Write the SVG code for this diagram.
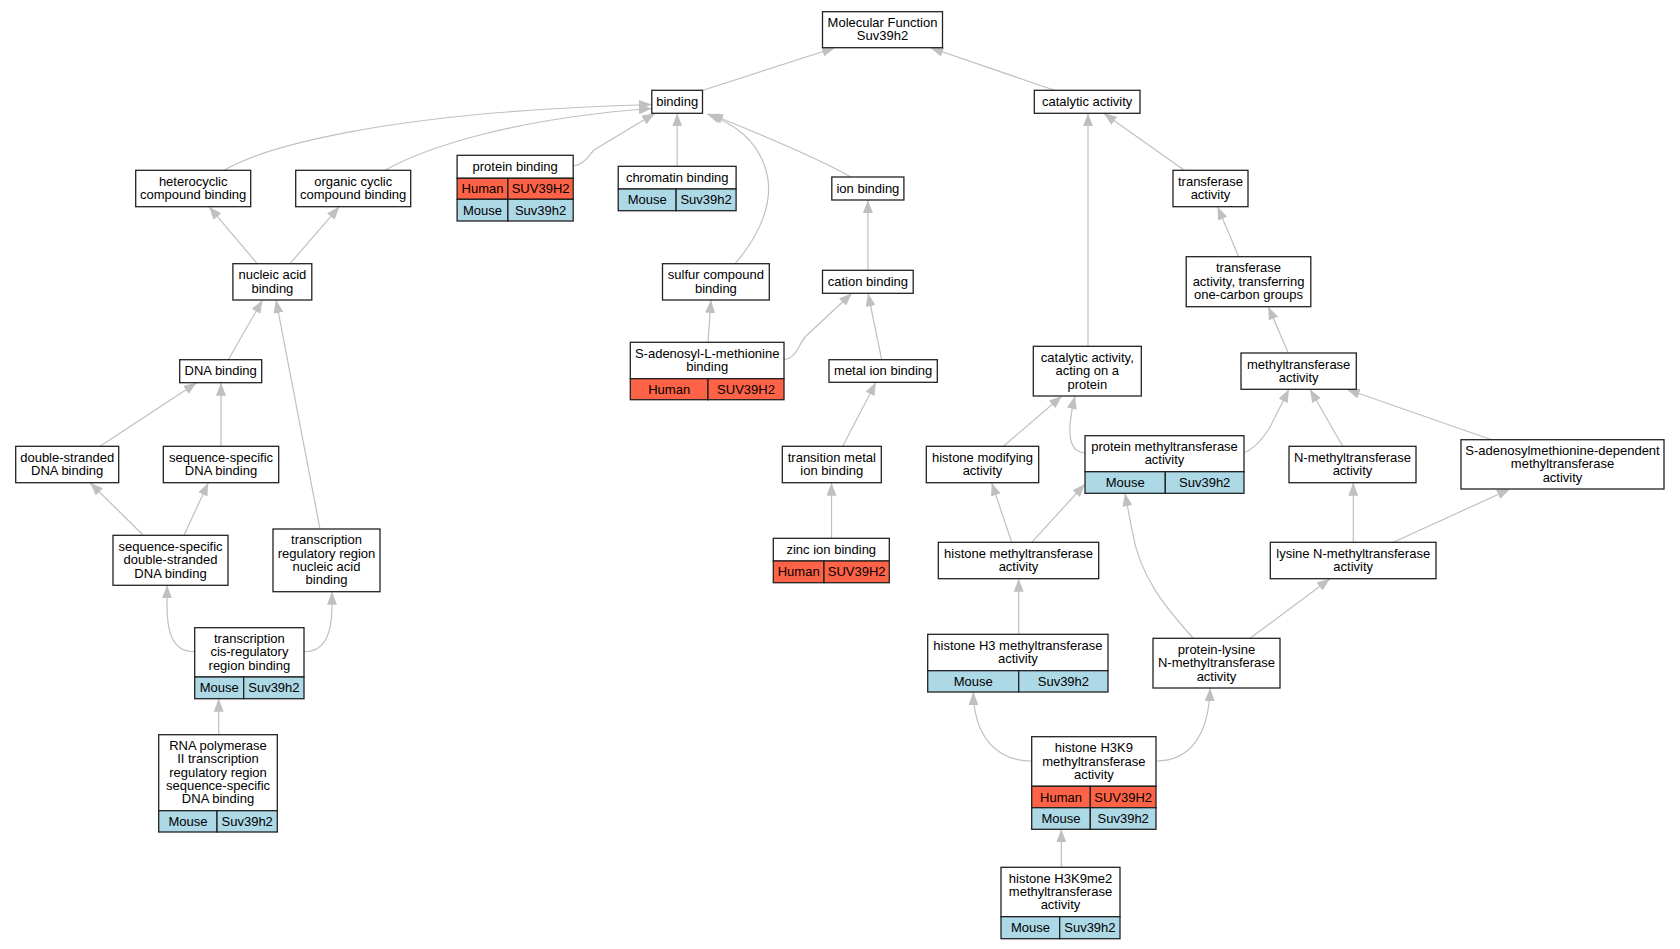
<svg xmlns="http://www.w3.org/2000/svg" width="1680" height="949" viewBox="0 0 1680 949">
<style>
.n rect{fill:#fff;stroke:#222;stroke-width:1.3}
.n rect.h{fill:#ff6347}
.n rect.m{fill:#add8e6}
text{font-family:"Liberation Sans",Arial,Helvetica,sans-serif;font-size:13px;text-anchor:middle;fill:#000}
.e path{fill:none;stroke:#c0c0c0;stroke-width:1.2;marker-end:url(#ah)}
</style>
<defs>
<marker id="ah" markerWidth="13" markerHeight="10" refX="13" refY="5" orient="auto" markerUnits="userSpaceOnUse">
<path d="M0,0 L13,5 L0,10 z" fill="#c0c0c0"/>
</marker>
</defs>
<rect width="1680" height="949" fill="#fff"/>
<g id="edges" class="e">
<path d="M702.9,90.3 L835,47.7"/>
<path d="M1054.6,90.3 L930.4,47.7"/>
<path d="M224,170.3 C262,148 380,112 651.8,104.5"/>
<path d="M385,170.3 C430,145 520,118 651.8,108.5"/>
<path d="M573.2,166 C583,165 588,157 594,150 L655,113.3"/>
<path d="M677.2,166.3 L677.2,113.3"/>
<path d="M735,263.7 C760,235 775,200 766,170 C757,140 735,124 707,114"/>
<path d="M851,177 C830,165 780,142 710,114"/>
<path d="M867.9,270.3 L867.9,200"/>
<path d="M708,342.3 L711,300"/>
<path d="M784,359.3 C796,359 798,345 806,336 L852,293.3"/>
<path d="M881.7,359.7 L868,293.3"/>
<path d="M842.7,446.3 L876,382.3"/>
<path d="M831.5,538.3 L831.5,482.7"/>
<path d="M257.3,263.7 L209,206.7"/>
<path d="M290,263.7 L339.3,206.7"/>
<path d="M228.3,359.7 L262.5,300"/>
<path d="M320,529 L276,300"/>
<path d="M100,446.3 L196.7,382.7"/>
<path d="M221,446.3 L221,382.7"/>
<path d="M143.3,535.3 L90,482.7"/>
<path d="M184,535.3 L208.3,482.7"/>
<path d="M194.7,651.7 C172,651.7 167,632 167,605 L167,585.3"/>
<path d="M304,651.7 C326,651.7 332,632 332,605 L332,591.7"/>
<path d="M218.7,734.7 L218.7,698.7"/>
<path d="M1184.3,170.3 L1103.7,113.3"/>
<path d="M1238.7,256.7 L1217.6,206.7"/>
<path d="M1088,346.3 L1088,113.3"/>
<path d="M1288.3,353 L1268.3,306.7"/>
<path d="M1003.3,446.3 L1062,396"/>
<path d="M1085,452.7 C1072,452.7 1069,440 1070,425 C1071,413 1073,404 1075,396"/>
<path d="M1011.7,542.3 L991.7,482.7"/>
<path d="M1031.7,542.3 L1085,484"/>
<path d="M1244,452.7 C1254,449 1262,440 1270,427 L1289,389.3"/>
<path d="M1342.7,446.3 L1310,389.3"/>
<path d="M1491.7,439.7 L1346.7,389.3"/>
<path d="M1353.3,542.3 L1353.3,482.7"/>
<path d="M1393.3,542.3 L1510,489"/>
<path d="M1018.7,634.3 L1018.7,578.7"/>
<path d="M1193.3,638.3 C1170,612 1140,580 1132,530 L1125,493.3"/>
<path d="M1250,638.3 L1330,578.7"/>
<path d="M1031.7,761 C995,761 974,735 973.3,692"/>
<path d="M1156,761 C1190,761 1209,735 1210,688"/>
<path d="M1061.3,867.3 L1061.3,829.3"/>
</g>

<g id="mf" class="n"><rect x="822.5" y="11.7" width="120" height="36"/><text x="882.5" y="27.1">Molecular Function</text><text x="882.5" y="40.4">Suv39h2</text></g>
<g id="binding" class="n"><rect x="651.8" y="90.3" width="50.7" height="23"/><text x="677.2" y="105.8">binding</text></g>
<g id="catalytic" class="n"><rect x="1034.3" y="90.3" width="105.7" height="23"/><text x="1087.2" y="105.8">catalytic activity</text></g>
<g id="heterocyclic" class="n"><rect x="135.7" y="170.3" width="115" height="36.4"/><text x="193.2" y="185.9">heterocyclic</text><text x="193.2" y="199.2">compound binding</text></g>
<g id="organic" class="n"><rect x="295.7" y="170.3" width="115" height="36.4"/><text x="353.2" y="185.9">organic cyclic</text><text x="353.2" y="199.2">compound binding</text></g>
<g id="transferase" class="n"><rect x="1173" y="170.3" width="75" height="36.4"/><text x="1210.5" y="185.9">transferase</text><text x="1210.5" y="199.2">activity</text></g>
<g id="ion" class="n"><rect x="831.8" y="177" width="72.1" height="23"/><text x="867.9" y="192.5">ion binding</text></g>
<g id="protein" class="n">
<rect x="457.1" y="155.3" width="116.1" height="23"/><text x="515.2" y="170.8">protein binding</text>
<rect class="h" x="457.1" y="178.3" width="50.8" height="21"/><rect class="h" x="507.9" y="178.3" width="65.3" height="21"/>
<text x="482.5" y="193.3">Human</text><text x="540.6" y="193.3">SUV39H2</text>
<rect class="m" x="457.1" y="199.3" width="50.8" height="21.7"/><rect class="m" x="507.9" y="199.3" width="65.3" height="21.7"/>
<text x="482.5" y="214.6">Mouse</text><text x="540.6" y="214.6">Suv39h2</text>
</g>
<g id="chromatin" class="n">
<rect x="618.2" y="166.3" width="117.9" height="22.7"/><text x="677.2" y="181.7">chromatin binding</text>
<rect class="m" x="618.2" y="189" width="57.9" height="21.7"/><rect class="m" x="676.1" y="189" width="60" height="21.7"/>
<text x="647.2" y="204.4">Mouse</text><text x="706.1" y="204.4">Suv39h2</text>
</g>
<g id="nucleic" class="n"><rect x="232.9" y="263.7" width="78.9" height="36.3"/><text x="272.4" y="279.2">nucleic acid</text><text x="272.4" y="292.5">binding</text></g>
<g id="sulfur" class="n"><rect x="662.5" y="263.7" width="106.8" height="36.3"/><text x="715.9" y="279.2">sulfur compound</text><text x="715.9" y="292.5">binding</text></g>
<g id="cation" class="n"><rect x="822.5" y="270.3" width="90.7" height="23"/><text x="867.9" y="285.8">cation binding</text></g>
<g id="onecarbon" class="n"><rect x="1186.2" y="256.7" width="124.6" height="50"/><text x="1248.5" y="272.4">transferase</text><text x="1248.5" y="285.7">activity, transferring</text><text x="1248.5" y="299">one-carbon groups</text></g>
<g id="dna" class="n"><rect x="179.7" y="359.7" width="82" height="23"/><text x="220.7" y="375.2">DNA binding</text></g>
<g id="metal" class="n"><rect x="829" y="359.7" width="108.3" height="22.6"/><text x="883.2" y="375">metal ion binding</text></g>
<g id="sambinding" class="n">
<rect x="630.3" y="342.3" width="153.7" height="36.4"/><text x="707.2" y="357.9">S-adenosyl-L-methionine</text><text x="707.2" y="371.2">binding</text>
<rect class="h" x="630.3" y="378.7" width="77.7" height="21"/><rect class="h" x="708" y="378.7" width="76" height="21"/>
<text x="669.2" y="393.7">Human</text><text x="746" y="393.7">SUV39H2</text>
</g>
<g id="catprotein" class="n"><rect x="1033.3" y="346.3" width="108" height="49.7"/><text x="1087.3" y="361.9">catalytic activity,</text><text x="1087.3" y="375.2">acting on a</text><text x="1087.3" y="388.5">protein</text></g>
<g id="methyltransferase" class="n"><rect x="1241" y="353" width="115.3" height="36.3"/><text x="1298.7" y="368.5">methyltransferase</text><text x="1298.7" y="381.8">activity</text></g>
<g id="pmt" class="n">
<rect x="1085" y="435.7" width="159" height="36"/><text x="1164.5" y="451.1">protein methyltransferase</text><text x="1164.5" y="464.4">activity</text>
<rect class="m" x="1085" y="471.7" width="80.3" height="21.6"/><rect class="m" x="1165.3" y="471.7" width="78.7" height="21.6"/>
<text x="1125.2" y="487">Mouse</text><text x="1204.7" y="487">Suv39h2</text>
</g>
<g id="samdep" class="n"><rect x="1461" y="439.7" width="203" height="49.3"/><text x="1562.5" y="455.1">S-adenosylmethionine-dependent</text><text x="1562.5" y="468.4">methyltransferase</text><text x="1562.5" y="481.7">activity</text></g>
<g id="dsdna" class="n"><rect x="15.7" y="446.3" width="103" height="36.4"/><text x="67.2" y="461.9">double-stranded</text><text x="67.2" y="475.2">DNA binding</text></g>
<g id="ssdna" class="n"><rect x="163.3" y="446.3" width="115.4" height="36.4"/><text x="221" y="461.9">sequence-specific</text><text x="221" y="475.2">DNA binding</text></g>
<g id="transition" class="n"><rect x="782.3" y="446.3" width="99" height="36.4"/><text x="831.8" y="461.9">transition metal</text><text x="831.8" y="475.2">ion binding</text></g>
<g id="histmod" class="n"><rect x="926.3" y="446.3" width="112.4" height="36.4"/><text x="982.5" y="461.9">histone modifying</text><text x="982.5" y="475.2">activity</text></g>
<g id="nmt" class="n"><rect x="1289" y="446.3" width="127" height="36.4"/><text x="1352.5" y="461.9">N-methyltransferase</text><text x="1352.5" y="475.2">activity</text></g>
<g id="ssds" class="n"><rect x="113" y="535.3" width="115" height="50"/><text x="170.5" y="551">sequence-specific</text><text x="170.5" y="564.3">double-stranded</text><text x="170.5" y="577.6">DNA binding</text></g>
<g id="trr" class="n"><rect x="273" y="529" width="107" height="62.7"/><text x="326.5" y="544.4">transcription</text><text x="326.5" y="557.7">regulatory region</text><text x="326.5" y="571">nucleic acid</text><text x="326.5" y="584.3">binding</text></g>
<g id="zinc" class="n">
<rect x="773.3" y="538.3" width="116" height="22.7"/><text x="831.3" y="553.7">zinc ion binding</text>
<rect class="h" x="773.3" y="561" width="50.7" height="21.7"/><rect class="h" x="824" y="561" width="65.3" height="21.7"/>
<text x="798.7" y="576.4">Human</text><text x="856.7" y="576.4">SUV39H2</text>
</g>
<g id="histmt" class="n"><rect x="938.3" y="542.3" width="160.4" height="36.4"/><text x="1018.5" y="557.9">histone methyltransferase</text><text x="1018.5" y="571.2">activity</text></g>
<g id="lysine" class="n"><rect x="1270.3" y="542.3" width="165.7" height="36.4"/><text x="1353.2" y="557.9">lysine N-methyltransferase</text><text x="1353.2" y="571.2">activity</text></g>
<g id="cis" class="n">
<rect x="194.7" y="627.7" width="109.3" height="49.3"/><text x="249.4" y="643.1">transcription</text><text x="249.4" y="656.4">cis-regulatory</text><text x="249.4" y="669.7">region binding</text>
<rect class="m" x="194.7" y="677" width="49" height="21.7"/><rect class="m" x="243.7" y="677" width="60.3" height="21.7"/>
<text x="219.2" y="692.4">Mouse</text><text x="273.9" y="692.4">Suv39h2</text>
</g>
<g id="h3mt" class="n">
<rect x="927.7" y="634.3" width="180.3" height="36.4"/><text x="1017.9" y="649.9">histone H3 methyltransferase</text><text x="1017.9" y="663.2">activity</text>
<rect class="m" x="927.7" y="670.7" width="91" height="21.3"/><rect class="m" x="1018.7" y="670.7" width="89.3" height="21.3"/>
<text x="973.2" y="685.9">Mouse</text><text x="1063.4" y="685.9">Suv39h2</text>
</g>
<g id="plnmt" class="n"><rect x="1153" y="638.3" width="127" height="49.7"/><text x="1216.5" y="653.9">protein-lysine</text><text x="1216.5" y="667.2">N-methyltransferase</text><text x="1216.5" y="680.5">activity</text></g>
<g id="rnapol" class="n">
<rect x="158.7" y="734.7" width="118.6" height="76"/><text x="218" y="750.1">RNA polymerase</text><text x="218" y="763.4">II transcription</text><text x="218" y="776.7">regulatory region</text><text x="218" y="790">sequence-specific</text><text x="218" y="803.3">DNA binding</text>
<rect class="m" x="158.7" y="810.7" width="58.3" height="21.3"/><rect class="m" x="217" y="810.7" width="60.3" height="21.3"/>
<text x="187.9" y="825.9">Mouse</text><text x="247.2" y="825.9">Suv39h2</text>
</g>
<g id="h3k9" class="n">
<rect x="1031.7" y="736.7" width="124.3" height="49.6"/><text x="1093.9" y="752.2">histone H3K9</text><text x="1093.9" y="765.5">methyltransferase</text><text x="1093.9" y="778.8">activity</text>
<rect class="h" x="1031.7" y="786.3" width="58.6" height="21.4"/><rect class="h" x="1090.3" y="786.3" width="65.7" height="21.4"/>
<text x="1061" y="801.5">Human</text><text x="1123.2" y="801.5">SUV39H2</text>
<rect class="m" x="1031.7" y="807.7" width="58.6" height="21.6"/><rect class="m" x="1090.3" y="807.7" width="65.7" height="21.6"/>
<text x="1061" y="823">Mouse</text><text x="1123.2" y="823">Suv39h2</text>
</g>
<g id="h3k9me2" class="n">
<rect x="1001" y="867.3" width="119" height="49.4"/><text x="1060.5" y="882.7">histone H3K9me2</text><text x="1060.5" y="896">methyltransferase</text><text x="1060.5" y="909.3">activity</text>
<rect class="m" x="1001" y="916.7" width="58.7" height="22"/><rect class="m" x="1059.7" y="916.7" width="60.3" height="22"/>
<text x="1030.4" y="932.2">Mouse</text><text x="1089.9" y="932.2">Suv39h2</text>
</g>
</svg>
